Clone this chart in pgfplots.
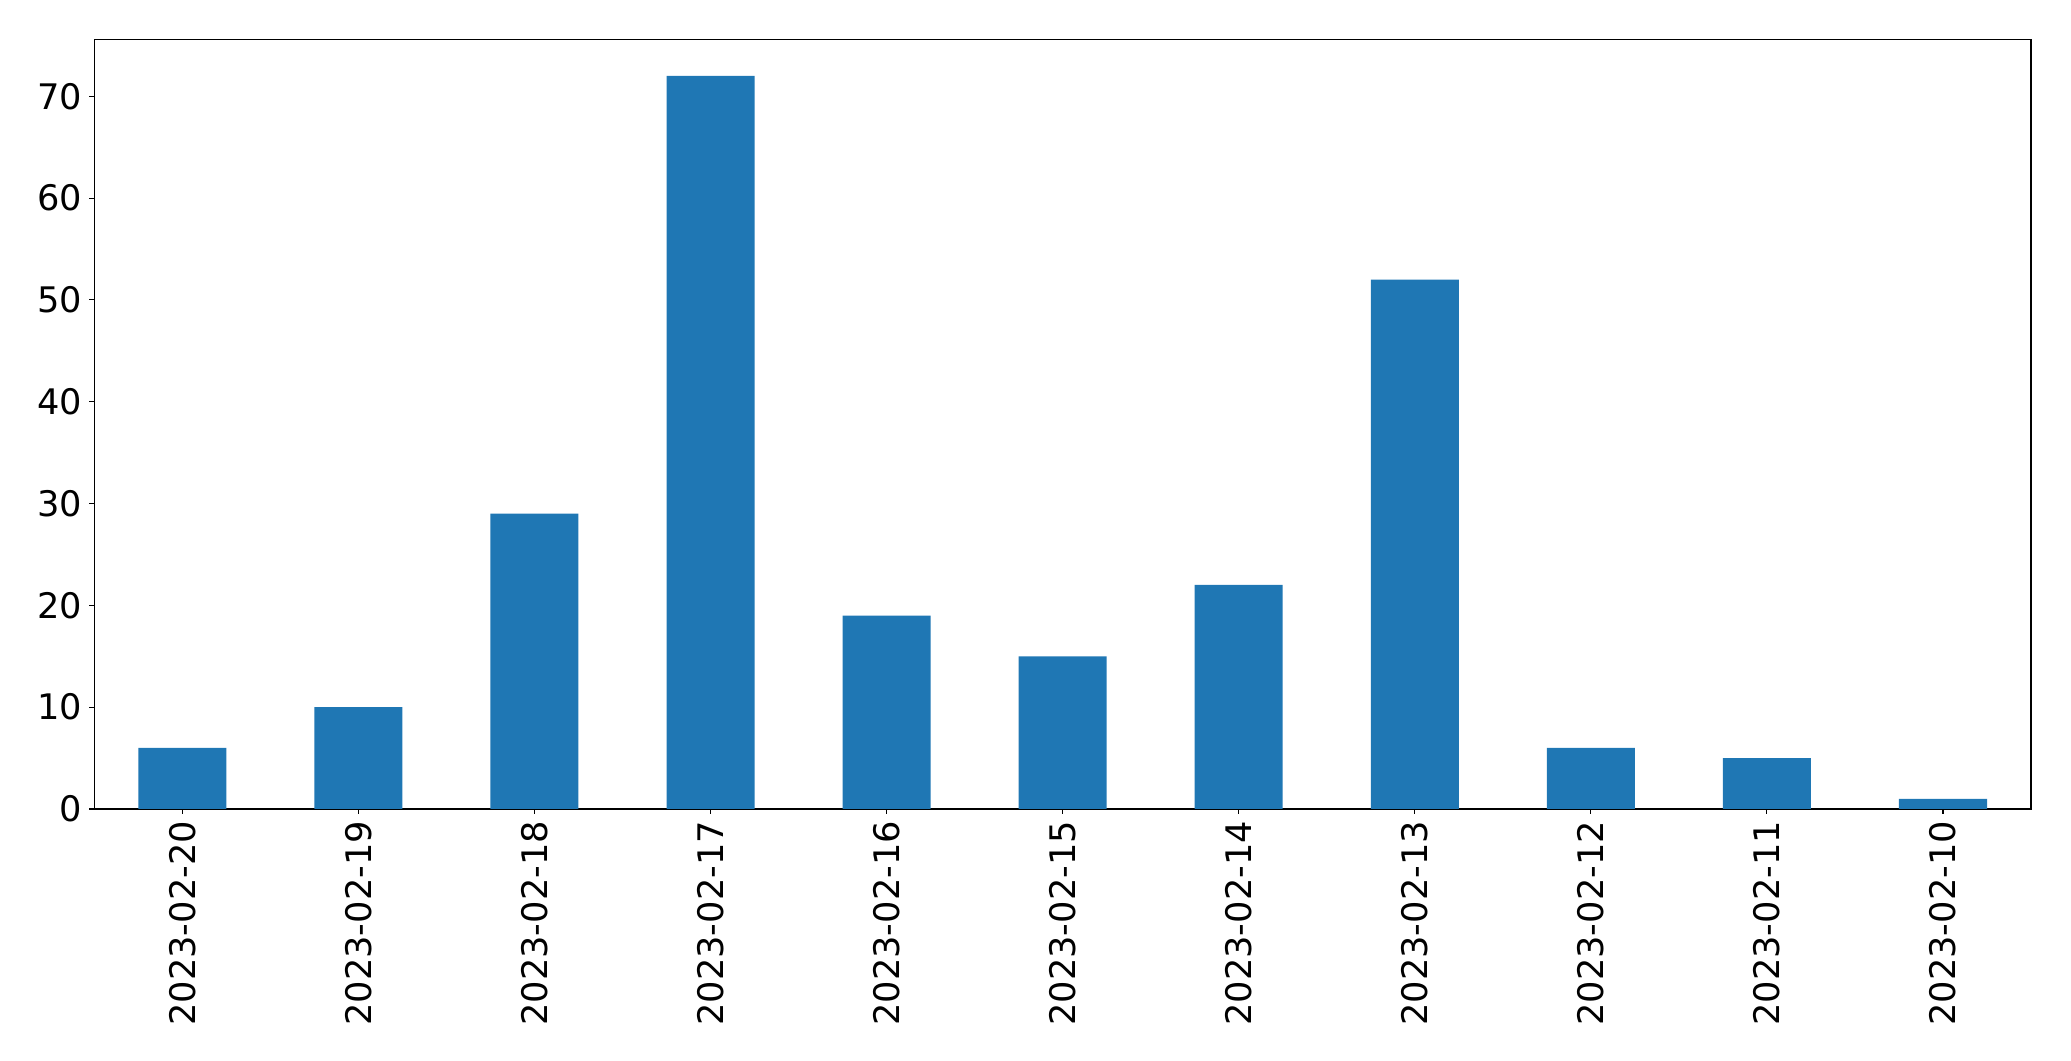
\documentclass[border=0pt]{standalone}
\usepackage{pgfplots}
\pgfplotsset{compat=1.18}
\usepackage{fontspec}
\setmainfont{DejaVu Sans}
\definecolor{mplblue}{HTML}{1F77B4}
\begin{document}
\begin{tikzpicture}
\useasboundingbox (-47.15pt,-126pt) rectangle (988.4pt,404.5pt);
\begin{axis}[
  at={(0pt,0pt)}, anchor=south west,
  scale only axis,
  width=968.4pt, height=384.85pt,
  xmin=-0.5, xmax=10.5, ymin=0, ymax=75.6,
  xtick={0,...,10},
  xticklabels={2023-02-20,2023-02-19,2023-02-18,2023-02-17,2023-02-16,2023-02-15,2023-02-14,2023-02-13,2023-02-12,2023-02-11,2023-02-10},
  ytick={0,10,...,70},
  tick align=outside, xtick pos=bottom, ytick pos=left,
  major tick length=2.5pt,
  tick style={line width=0.55pt, black},
  axis line style={line width=0.55pt},
  /pgf/number format/assume math mode=true,
  tick label style={font=\fontsize{17.6pt}{20pt}\selectfont},
  xticklabel style={rotate=90, anchor=east},
  ytick style={},
  bar width=0.5,
]
\addplot[ybar, fill=mplblue, draw=none, bar shift=0pt] coordinates {
(0,6) (1,10) (2,29) (3,72) (4,19) (5,15) (6,22) (7,52) (8,6) (9,5) (10,1)
};
\end{axis}
\end{tikzpicture}
\end{document}
